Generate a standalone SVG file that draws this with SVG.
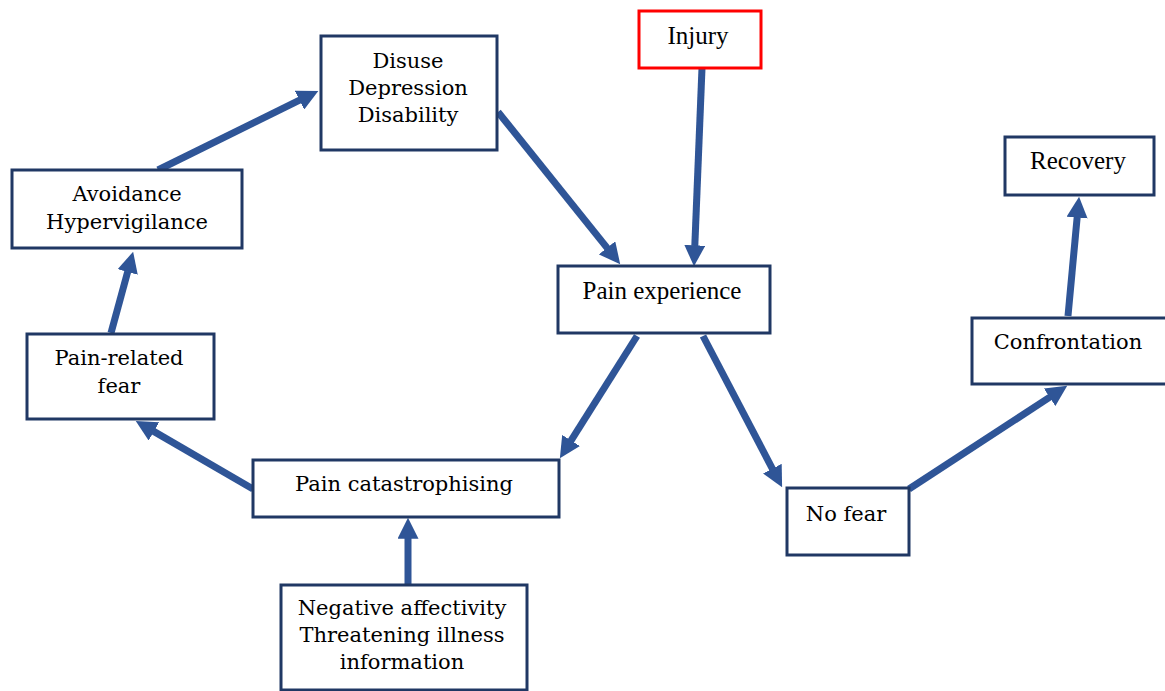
<svg xmlns="http://www.w3.org/2000/svg" width="1165" height="691" viewBox="0 0 1165 691">
<style>
.box{fill:#fff;stroke:#203864;stroke-width:3}
.red{fill:#fff;stroke:#ff0000;stroke-width:3}
.g{font-family:"DejaVu Serif","Liberation Serif",serif;font-size:21px;fill:#000;text-anchor:middle}
.t{font-family:"Liberation Serif",serif;font-size:25px;fill:#000;text-anchor:middle}
.c{stroke:#2f5597;stroke-width:7;fill:none;marker-end:url(#ah)}
</style>
<defs>
<marker id="ah" viewBox="0 0 3 3" markerWidth="3" markerHeight="3" refX="0.1" refY="1.5" orient="auto" markerUnits="strokeWidth">
<path d="M0,0 L3,1.5 L0,3 z" fill="#2f5597"/>
</marker>
</defs>
<rect width="1165" height="691" fill="#fff"/>
<g id="connectors">
<line class="c" x1="158" y1="170" x2="300.1" y2="99.9"/>
<line class="c" x1="498" y1="112" x2="607.5" y2="248.4"/>
<line class="c" x1="702" y1="68" x2="694.8" y2="246"/>
<line class="c" x1="637" y1="336" x2="570.7" y2="441.1"/>
<line class="c" x1="703" y1="336" x2="772.7" y2="469.3"/>
<line class="c" x1="253" y1="489" x2="153.3" y2="431.1"/>
<line class="c" x1="111" y1="333" x2="127.8" y2="271.3"/>
<line class="c" x1="408" y1="585" x2="408" y2="538"/>
<line class="c" x1="909" y1="489" x2="1050.2" y2="396.9"/>
<line class="c" x1="1068" y1="316" x2="1077.2" y2="216.9"/>
</g>
<g id="disuse">
<rect class="box" x="321" y="36" width="176" height="114"/>
<text class="g" x="408" y="68">Disuse</text>
<text class="g" x="408" y="95">Depression</text>
<text class="g" x="408" y="122">Disability</text>
</g>
<g id="injury">
<rect class="red" x="639" y="11" width="122" height="57"/>
<text class="t" x="698" y="44">Injury</text>
</g>
<g id="avoidance">
<rect class="box" x="12" y="170" width="230" height="78"/>
<text class="g" x="127" y="201">Avoidance</text>
<text class="g" x="127" y="229">Hypervigilance</text>
</g>
<g id="pain-experience">
<rect class="box" x="558" y="266" width="212" height="67"/>
<text class="t" x="662" y="299">Pain experience</text>
</g>
<g id="recovery">
<rect class="box" x="1005" y="137" width="149" height="58"/>
<text class="t" x="1078" y="169">Recovery</text>
</g>
<g id="confrontation">
<rect class="box" x="972" y="318" width="200" height="66"/>
<text class="g" x="1068" y="349">Confrontation</text>
</g>
<g id="pain-related-fear">
<rect class="box" x="27" y="334" width="187" height="85"/>
<text class="g" x="119" y="365">Pain-related</text>
<text class="g" x="119" y="393">fear</text>
</g>
<g id="pain-catastrophising">
<rect class="box" x="253" y="460" width="306" height="57"/>
<text class="g" x="404" y="491">Pain catastrophising</text>
</g>
<g id="no-fear">
<rect class="box" x="787" y="488" width="122" height="67"/>
<text class="g" x="846" y="521">No fear</text>
</g>
<g id="negative">
<rect class="box" x="281" y="585" width="246" height="105"/>
<text class="g" x="402" y="615">Negative affectivity</text>
<text class="g" x="402" y="642">Threatening illness</text>
<text class="g" x="402" y="669">information</text>
</g>
</svg>
